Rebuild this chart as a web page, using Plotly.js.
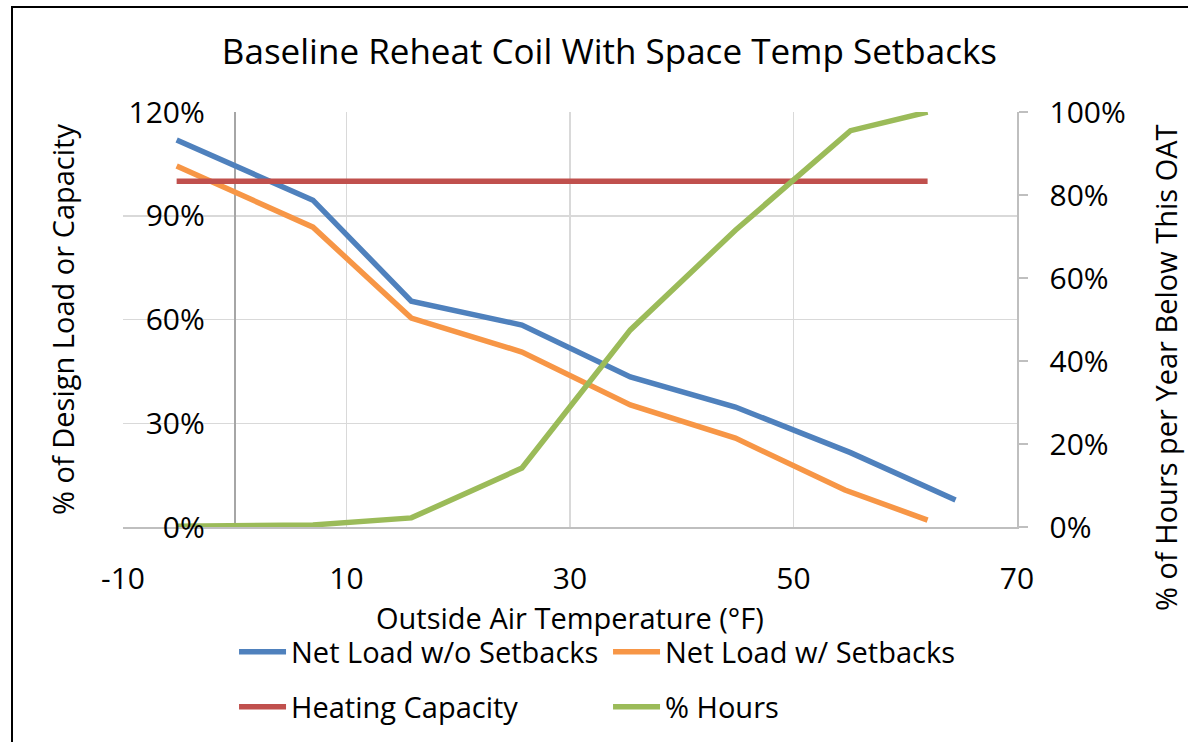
<!DOCTYPE html>
<html><head><meta charset="utf-8">
<script src="https://cdn.plot.ly/plotly-3.0.1.min.js"></script>
<style>
html,body{margin:0;padding:0;background:#fff;overflow:hidden}
#chart{width:1188px;height:742px;position:absolute;left:0;top:0}
#frame{position:absolute;left:11px;top:6px;width:1400px;height:900px;border:2px solid #000;pointer-events:none}
</style>
</head><body><div id="chart"></div><div id="frame"></div>
<script>
// Outside air temperature (°F) at each point
const oatNoSetbacks = [-5.2, 7.0, 15.8, 25.7, 35.4, 44.8, 55.1, 64.5];
const oatSetbacks   = [-5.2, 7.0, 15.8, 25.7, 35.4, 44.8, 54.6, 62.0];
const oatCapacity   = [-5.2, 62.0];
const oatHours      = [-5.2, 7.0, 15.8, 25.7, 35.4, 44.8, 55.1, 62.0];

// % of design load or capacity (left axis)
const netLoadNoSetbacks = [1.119, 0.945, 0.653, 0.584, 0.434, 0.347, 0.215, 0.078];
const netLoadSetbacks   = [1.044, 0.867, 0.604, 0.506, 0.353, 0.257, 0.107, 0.020];
const heatingCapacity   = [1.0, 1.0];

// % of hours per year below this OAT (right axis)
const pctHours = [0.002, 0.005, 0.022, 0.142, 0.475, 0.715, 0.955, 1.0];

// x-axis tick labels
const xTickValues = [-10, 10, 30, 50, 70];
const xTickLabels = ['-10', '10', '30', '50', '70'];

const seriesNames = ['Net Load w/o Setbacks', 'Net Load w/ Setbacks', 'Heating Capacity', '% Hours'];
const seriesColors = ['#4F81BD', '#F79646', '#C0504D', '#9BBB59'];

const FONT = '"Open Sans", "Noto Sans", sans-serif';
const TXT = '#000';

const traces = [
  {x: oatNoSetbacks, y: netLoadNoSetbacks, name: seriesNames[0], legend: 'legend'},
  {x: oatSetbacks, y: netLoadSetbacks, name: seriesNames[1], legend: 'legend'},
  {x: oatCapacity, y: heatingCapacity, name: seriesNames[2], legend: 'legend2'},
  {x: oatHours, y: pctHours, name: seriesNames[3], legend: 'legend2', yaxis: 'y2'}
].map((t, i) => Object.assign({
  type: 'scatter', mode: 'lines',
  line: {color: seriesColors[i], width: 5.5},
  hoverinfo: 'x+y'
}, t));

const legendBase = {
  orientation: 'h', xref: 'container', yref: 'container',
  x: 0.197, xanchor: 'left', yanchor: 'middle',
  entrywidth: 312, font: {family: FONT, size: 29, color: TXT},
  bgcolor: 'rgba(0,0,0,0)', itemwidth: 47, traceorder: 'normal'
};

const layout = {
  width: 1188, height: 742,
  paper_bgcolor: '#fff', plot_bgcolor: '#fff',
  margin: {l: 123, r: 171, t: 112, b: 215},
  font: {family: FONT, color: TXT},
  title: {
    text: 'Baseline Reheat Coil With Space Temp Setbacks',
    font: {family: FONT, size: 35, color: TXT},
    xref: 'container', x: 0.513, xanchor: 'center',
    yref: 'container', y: 0.93, yanchor: 'middle'
  },
  xaxis: {
    range: [-10, 70], tickvals: xTickValues, ticktext: xTickLabels,
    showgrid: true, gridcolor: '#d9d9d9', gridwidth: 1.5,
    zeroline: true, zerolinecolor: '#a6a6a6', zerolinewidth: 1.5,
    showline: true, linecolor: '#bfbfbf', linewidth: 1.5,
    ticks: '', ticklabelstandoff: 24,
    tickfont: {family: FONT, size: 30, color: TXT}
  },
  yaxis: {
    range: [0, 1.2], tick0: 0, dtick: 0.3, tickformat: '.0%',
    anchor: 'free', position: 0.125,
    showgrid: true, gridcolor: '#d9d9d9', gridwidth: 1.5,
    zeroline: false, showline: false,
    ticks: '', ticklabelstandoff: 30,
    tickfont: {family: FONT, size: 30, color: TXT},
    title: {text: '% of Design Load or Capacity', font: {family: FONT, size: 29, color: TXT}, standoff: 44}
  },
  yaxis2: {
    range: [0, 1], tick0: 0, dtick: 0.2, tickformat: '.0%',
    overlaying: 'y', side: 'right', anchor: 'x',
    showgrid: false, zeroline: false,
    showline: true, linecolor: '#bfbfbf', linewidth: 1.5,
    ticks: 'outside', ticklen: 9, tickwidth: 1.5, tickcolor: '#bfbfbf',
    ticklabelstandoff: 16,
    tickfont: {family: FONT, size: 30, color: TXT}
  },
  annotations: [{
    text: 'Outside Air Temperature (°F)',
    xref: 'paper', yref: 'paper', x: 0.5, y: -0.219,
    xanchor: 'center', yanchor: 'middle', showarrow: false,
    font: {family: FONT, size: 29, color: TXT}
  }, {
    text: '% of Hours per Year Below This OAT',
    xref: 'paper', yref: 'paper', x: 1.1655, y: 0.3855,
    xanchor: 'center', yanchor: 'middle', textangle: -90, showarrow: false,
    font: {family: FONT, size: 29, color: TXT}
  }],
  legend: Object.assign({}, legendBase, {y: 1 - 652 / 742}),
  legend2: Object.assign({}, legendBase, {y: 1 - 707 / 742}),
  showlegend: true
};

Plotly.newPlot('chart', traces, layout, {displayModeBar: false, staticPlot: true}).then(gd => {
  // lengthen legend line samples to match the reference
  gd.querySelectorAll('.legendlines path').forEach(p => p.setAttribute('d', 'M5,0h47'));
});
</script>
</body></html>
